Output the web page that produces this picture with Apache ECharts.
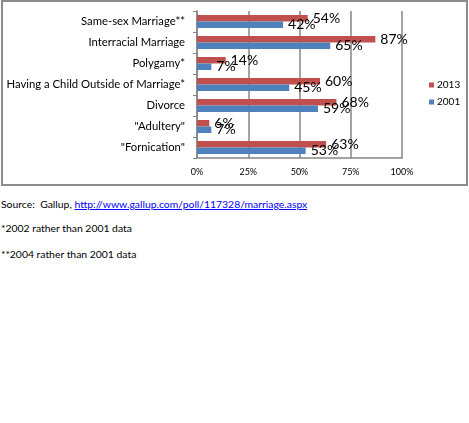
<!DOCTYPE html>
<html lang="en">
<head>
    <meta charset="UTF-8">
    <title>Marriage attitudes</title>
    <style>
        *{
            margin:0;
            padding:0;
            box-sizing:border-box;
        }
        html, body{
            width:469px;
            height:423px;
            background:#fff;
            overflow:hidden;
        }
        #frame{
            position:absolute;
            left:1px;
            top:0;
            width:467px;
            height:186px;
            border:2px solid #8c8c8c;
        }
        #myChart{
            position:absolute;
            left:0;
            top:0;
            width:469px;
            height:186px;
        }
        .note{
            position:absolute;
            left:1px;
            font-family:Lato, "Open Sans", sans-serif;
            font-size:10.4px;
            color:#000;
            white-space:nowrap;
        }
        .note a{
            color:#0000ff;
            text-decoration:underline;
        }
    </style>
</head>
<body>
<div id="frame"></div>
<div id="myChart"></div>
<div class="note" style="top:198px;">Source:&nbsp; Gallup, <a href="#">http://www.gallup.com/poll/117328/marriage.aspx</a></div>
<div class="note" style="top:222px;">*2002 rather than 2001 data</div>
<div class="note" style="top:248px;">**2004 rather than 2001 data</div>
<script src="https://cdn.jsdelivr.net/npm/echarts@6/dist/echarts.min.js"></script>
<script>
    var categories = ['Same-sex Marriage**', 'Interracial Marriage', 'Polygamy*',
        'Having a Child Outside of Marriage*', 'Divorce', '"Adultery"', '"Fornication"'];
    var values2013 = [54, 87, 14, 60, 68, 6, 63];
    var values2001 = [42, 65, 7, 45, 59, 7, 53];
    var tickValues = [0, 25, 50, 75, 100];

    var font = 'Lato, "Open Sans", sans-serif';
    var myChart = echarts.init(document.getElementById('myChart'));

    function labelStyle() {
        return {
            show:true,
            position:'right',
            distance:5,
            formatter:'{c}%',
            fontFamily:font,
            fontSize:14,
            color:'#000'
        };
    }

    var option = {
        animation:false,
        color:['#c0504d', '#4f81bd'],
        legend:{
            orient:'vertical',
            left:429,
            top:80,
            padding:0,
            itemWidth:5,
            itemHeight:5,
            itemGap:7,
            icon:'rect',
            textStyle:{fontFamily:font, fontSize:10, color:'#000', padding:[0, 0, 0, -2]},
            data:['2013', '2001']
        },
        grid:{
            left:197,
            top:11,
            width:205,
            height:147,
            containLabel:false
        },
        xAxis:{
            type:'value',
            min:0,
            max:100,
            interval:25,
            axisLine:{show:true, lineStyle:{color:'#868686', width:1.5}},
            axisTick:{show:false},
            splitLine:{show:true, lineStyle:{color:'#868686', width:1.5}},
            axisLabel:{
                fontFamily:font,
                fontSize:9,
                color:'#000',
                margin:10,
                formatter:function(v) {
                    return tickValues.indexOf(v) >= 0 ? v + '%' : '';
                }
            }
        },
        yAxis:{
            type:'category',
            inverse:true,
            data:categories,
            axisLine:{show:true, lineStyle:{color:'#868686', width:1.5}},
            axisTick:{show:true, length:4, lineStyle:{color:'#868686'}},
            axisLabel:{fontFamily:font, fontSize:11.3, color:'#000', margin:12}
        },
        series:[
            {
                name:'2013',
                type:'bar',
                barGap:'0%',
                barCategoryGap:'38%',
                data:values2013,
                label:labelStyle()
            },
            {
                name:'2001',
                type:'bar',
                data:values2001,
                label:labelStyle()
            }
        ]
    };
    myChart.setOption(option);
</script>
</body>
</html>
